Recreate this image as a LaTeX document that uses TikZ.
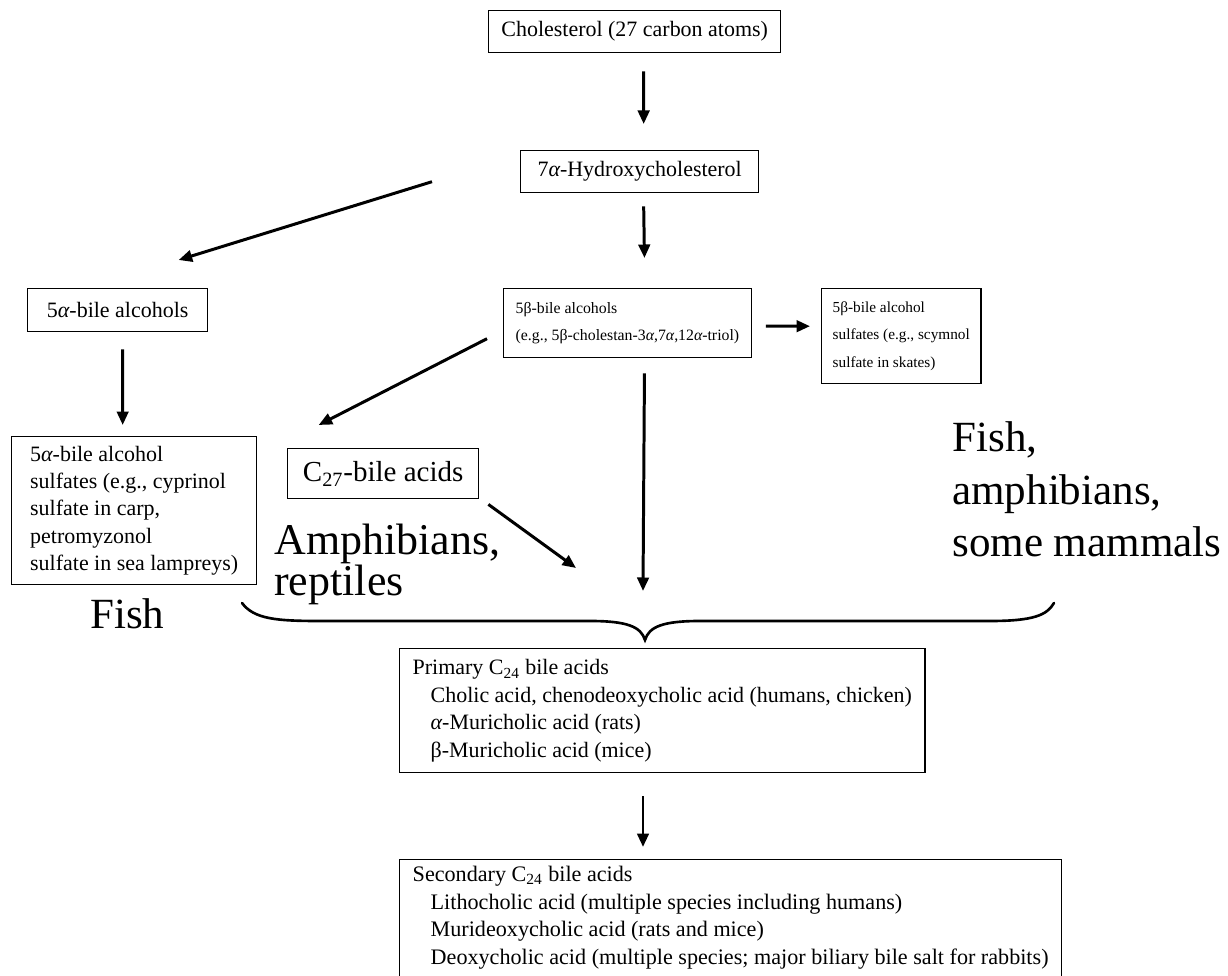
\documentclass[tikz,border=0pt]{standalone}
\usepackage{fontspec}
\setmainfont{Liberation Serif}
\usetikzlibrary{arrows.meta,calc}

\tikzset{
	box/.style={draw, line width=0.8pt, anchor=north west, inner xsep=0.24cm, inner ysep=0pt,
		align=left, font=\fontsize{12.5}{15.6}\selectfont},
	cbox/.style={box, align=center},
	smallbox/.style={box, font=\fontsize{9}{15.6}\selectfont},
	arr/.style={line width=1.7pt, -{Triangle[length=0.27cm,width=0.23cm]}},
	brace/.style={line width=1.5pt, line cap=round},
	big/.style={anchor=base west, inner sep=0pt, align=left}
}
\newcommand{\al}{{\itshape α}}

\begin{document}
\begin{tikzpicture}[x=0.02cm, y=-0.02cm]
	\useasboundingbox (0,0) rectangle (1228,976);
	% boxes
	\node[cbox, minimum width=5.84cm, minimum height=0.84cm] (chol) at (488,10) {Cholesterol (27 carbon atoms)};
	\node[cbox, minimum width=4.76cm, minimum height=0.84cm] (hyd) at (520,150) {7\al-Hydroxycholesterol};
	\node[cbox, minimum width=3.6cm, minimum height=0.86cm] (fiveA) at (27,288) {5\al-bile alcohols};
	\node[smallbox, minimum width=4.92cm, minimum height=1.38cm] (fiveB) at (503,288)
		{5β-bile alcohols\\(e.g., 5β-cholestan-3\al,7\al,12\al-triol)};
	\node[smallbox, inner xsep=0.22cm, minimum width=3.18cm, minimum height=1.9cm,
		font=\fontsize{8.7}{15.6}\selectfont] (sulfB) at (821,288)
		{5β-bile alcohol\\sulfates (e.g., scymnol\\sulfate in skates)};
	\node[box, minimum width=4.9cm, minimum height=2.96cm] (sulfA) at (11,436)
		{5\al-bile alcohol\\sulfates (e.g., cyprinol\\sulfate in carp,\\petromyzonol\\sulfate in sea lampreys)};
	\node[cbox, minimum width=3.82cm, minimum height=1.0cm, font=\fontsize{16.5}{19}\selectfont] (c27) at (287,448)
		{C\textsubscript{27}-bile acids};
	\node[box, inner xsep=0.26cm, minimum height=2.48cm] (prim) at (399,648)
		{Primary C\textsubscript{24} bile acids\\
		\hspace{0.36cm}Cholic acid, chenodeoxycholic acid (humans, chicken)\\
		\hspace{0.36cm}\al-Muricholic acid (rats)\\
		\hspace{0.36cm}β-Muricholic acid (mice)};
	\node[box, inner xsep=0.26cm, inner ysep=0.12cm, font=\fontsize{12.6}{15.9}\selectfont] (sec) at (399,859)
		{Secondary C\textsubscript{24} bile acids\\
		\hspace{0.36cm}Lithocholic acid (multiple species including humans)\\
		\hspace{0.36cm}Murideoxycholic acid (rats and mice)\\
		\hspace{0.36cm}Deoxycholic acid (multiple species; major biliary bile salt for rabbits)\\
		~};

	% species labels
	\node[big, font=\fontsize{24.5}{24.5}\selectfont] (fish) at (90,628) {Fish};
	\node[big, font=\fontsize{25}{21}\selectfont] (amph) at (274,596) {Amphibians,\\reptiles};
	\node[big, font=\fontsize{24.5}{30}\selectfont] (mamm) at (952,557) {Fish,\\amphibians,\\some mammals};

	% brace
	\coordinate (tip) at (645,640);
	\draw[brace] (242,603) .. controls (254,619) and (276,621) .. (320,621) -- (590,621)
		.. controls (628,621) and (641,627) .. (tip)
		.. controls (649,627) and (662,621) .. (700,621) -- (990,621)
		.. controls (1034,621) and (1047,615) .. (1054,603);

	% arrows
	\draw[arr] ($(chol.south)+(9,18)$) -- ($(hyd.north)+(4,-26)$);
	\draw[arr] ($(hyd.south)+(4,13)$) -- ($(fiveB.north)+(17,-30)$);
	\draw[arr] ($(hyd.west)+(-88,10)$) -- ($(fiveA.north)+(61,-28)$);
	\draw[arr] ($(fiveA.south)+(5,17)$) -- ($(sulfA.north)+(-11.5,-11)$);
	\draw[arr] ($(fiveB.east)+(14,3)$) -- ($(sulfB.west)+(-11,-10)$);
	\draw[arr] ($(fiveB.west)+(-16,15.5)$) -- ($(c27.north)+(-64.5,-23)$);
	\draw[arr] ($(c27.south east)+(9,5)$) -- ($(tip)+(-69,-72)$);
	\draw[arr] ($(fiveB.south)+(17,15)$) -- ($(tip)+(-2,-49)$);
	\draw[arr] ($(prim.south -| tip)+(-2,23)$) -- ($(sec.north -| tip)+(-2,-12)$);
\end{tikzpicture}
\end{document}
